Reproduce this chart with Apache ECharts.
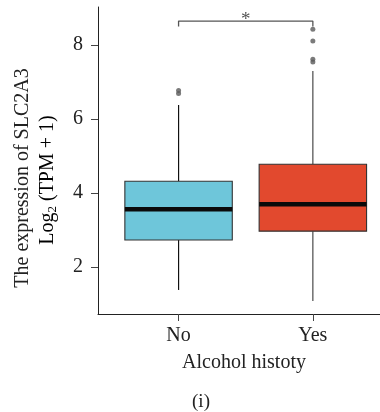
<!DOCTYPE html>
<html>
<head>
<meta charset="utf-8">
<script src="https://cdn.jsdelivr.net/npm/echarts@6/dist/echarts.min.js"></script>
<style>
html,body{margin:0;padding:0;background:#fff;}
#chart{width:380px;height:412px;}
</style>
</head>
<body>
<div id="chart"></div>
<script>
// ---- data ----
const categories = ['No', 'Yes'];
const lowerWhisker = [1.38, 1.08];
const q1 = [2.73, 2.97];
const median = [3.56, 3.70];
const q3 = [4.32, 4.78];
const upperWhisker = [6.38, 7.30];
const outliers = [[6.69, 6.77], [7.54, 7.62, 8.11, 8.43]];
const yTicks = [2, 4, 6, 8];
const sigLabel = '*';
const sigLevel = 8.65;
const sigTick = 8.5;
const xTitle = 'Alcohol histoty';
const yTitle1 = 'The expression of SLC2A3';
const panelLabel = '(i)';

// ---- build ----
const boxData = categories.map((c, i) => [i + 1, lowerWhisker[i], q1[i], median[i], q3[i], upperWhisker[i]]);
const outlierData = [];
outliers.forEach((arr, i) => arr.forEach(v => outlierData.push([i + 1, v])));
const fills = ['#6EC6DA', '#E2492E'];
const whiskerColors = ['#111', '#4a4a4a'];
const FONT = '"Liberation Serif", "DejaVu Serif", serif';

const chart = echarts.init(document.getElementById('chart'), null, {renderer: 'canvas'});
const option = {
  animation: false,
  backgroundColor: '#fff',
  grid: {left: 98, right: 0, top: 7, bottom: 98, containLabel: false},
  xAxis: {
    type: 'value', min: 0.4, max: 2.5,
    axisLine: {show: true, lineStyle: {color: '#222', width: 1}},
    axisTick: {show: true, customValues: [1, 2], length: 7, lineStyle: {color: '#444', width: 1}},
    axisLabel: {customValues: [1, 2], formatter: v => categories[Math.round(v) - 1], margin: 12,
      color: '#222', fontSize: 20, fontFamily: FONT},
    splitLine: {show: false}
  },
  yAxis: {
    type: 'value', min: 0.73, max: 9.03,
    axisLine: {show: true, lineStyle: {color: '#222', width: 1}},
    axisTick: {show: true, customValues: yTicks, length: 7, lineStyle: {color: '#444', width: 1}},
    axisLabel: {customValues: yTicks, margin: 15, color: '#222', fontSize: 20, fontFamily: FONT},
    splitLine: {show: false}
  },
  series: [
    {
      type: 'custom',
      data: boxData,
      z: 2,
      renderItem: function (params, api) {
        const i = params.dataIndex;
        const x = api.value(0);
        const lw = api.value(1), b1 = api.value(2), md = api.value(3), b3 = api.value(4), uw = api.value(5);
        const hw = 0.4;
        const pTopL = api.coord([x - hw, b3]);
        const pBotR = api.coord([x + hw, b1]);
        const pMedL = api.coord([x - hw, md]);
        const pMedR = api.coord([x + hw, md]);
        const pUW = api.coord([x, uw]);
        const pQ3 = api.coord([x, b3]);
        const pQ1 = api.coord([x, b1]);
        const pLW = api.coord([x, lw]);
        return {
          type: 'group',
          children: [
            {type: 'line', shape: {x1: pUW[0], y1: pUW[1], x2: pQ3[0], y2: pQ3[1]},
              style: {stroke: whiskerColors[i], lineWidth: 1.2}},
            {type: 'line', shape: {x1: pQ1[0], y1: pQ1[1], x2: pLW[0], y2: pLW[1]},
              style: {stroke: whiskerColors[i], lineWidth: 1.2}},
            {type: 'rect', shape: {x: pTopL[0], y: pTopL[1], width: pBotR[0] - pTopL[0], height: pBotR[1] - pTopL[1]},
              style: {fill: fills[i], stroke: '#333', lineWidth: 1.1}},
            {type: 'line', shape: {x1: pMedL[0], y1: pMedL[1], x2: pMedR[0], y2: pMedR[1]},
              style: {stroke: '#0a0a0a', lineWidth: 4.5}}
          ]
        };
      }
    },
    {
      type: 'scatter',
      data: outlierData,
      symbol: 'circle',
      symbolSize: 5,
      itemStyle: {color: '#5a5a5a'},
      z: 3
    },
    {
      type: 'line',
      data: [[1, sigTick], [1, sigLevel], [2, sigLevel], [2, sigTick]],
      symbol: 'none',
      lineStyle: {color: '#555', width: 1.3},
      z: 3
    },
    {
      type: 'custom',
      data: [[1.5, sigLevel]],
      renderItem: function (params, api) {
        const p = api.coord([api.value(0), api.value(1)]);
        return {type: 'text', x: p[0], y: p[1] + 8,
          style: {text: sigLabel, fill: '#555', font: '19px ' + FONT, align: 'center', verticalAlign: 'bottom'}};
      }
    }
  ],
  graphic: [
    {type: 'text', x: 23, y: 178, rotation: Math.PI / 2,
      style: {text: yTitle1, fill: '#222', font: '20px ' + FONT, align: 'center', verticalAlign: 'middle'}},
    {type: 'text', x: 48, y: 180, rotation: Math.PI / 2,
      style: {text: '{a|Log}{s|2}{a| (TPM + 1)}', align: 'center', verticalAlign: 'middle',
        rich: {
          a: {fontFamily: FONT, fontSize: 20, color: '#222'},
          s: {fontFamily: FONT, fontSize: 13, color: '#222', padding: [10, 0, 0, 0]}
        }}},
    {type: 'text', x: 244, y: 363,
      style: {text: xTitle, fill: '#222', font: '20px ' + FONT, align: 'center', verticalAlign: 'middle'}},
    {type: 'text', x: 201, y: 402,
      style: {text: panelLabel, fill: '#222', font: '19px ' + FONT, align: 'center', verticalAlign: 'middle'}}
  ]
};
chart.setOption(option);
</script>
</body>
</html>
